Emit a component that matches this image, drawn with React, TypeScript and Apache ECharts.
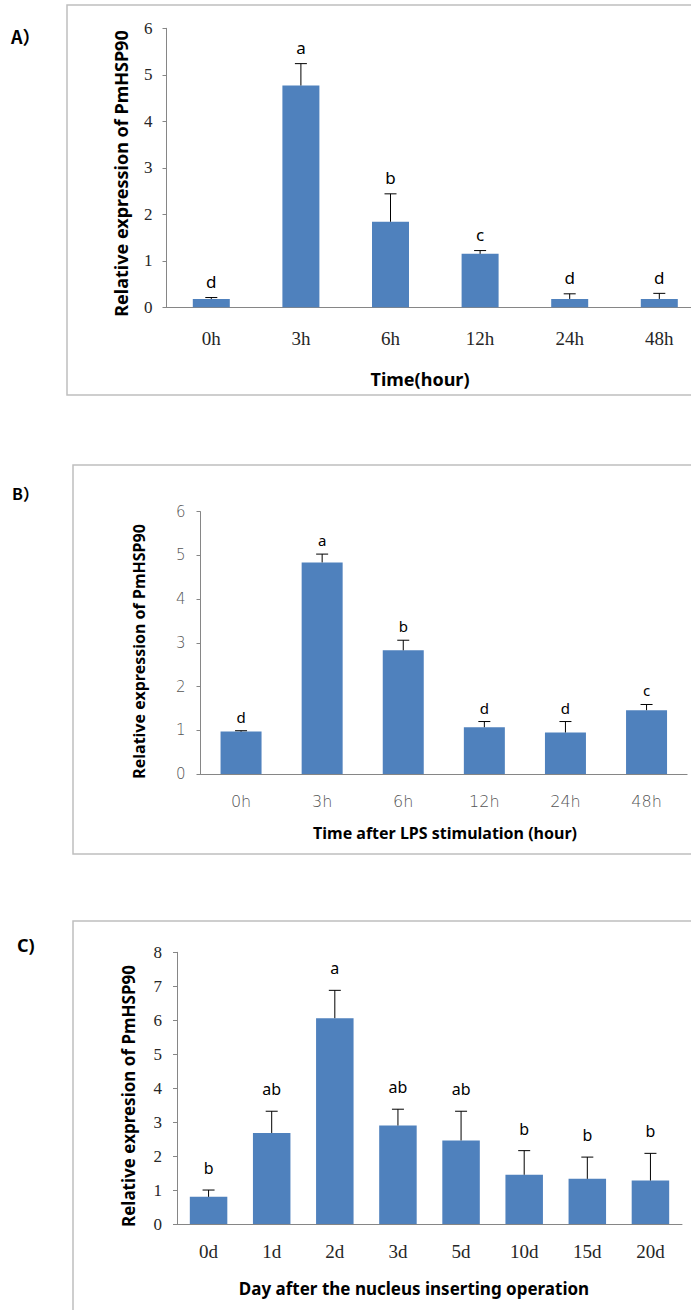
import React, { useEffect, useRef } from "react";
import * as echarts from "echarts";

const catsA = ["0h", "3h", "6h", "12h", "24h", "48h"];
const valsA = [0.18, 4.77, 1.84, 1.15, 0.18, 0.18];
const errA = [0.03, 0.47, 0.6, 0.07, 0.11, 0.12];
const sigA = ["d", "a", "b", "c", "d", "d"];

const catsB = ["0h", "3h", "6h", "12h", "24h", "48h"];
const valsB = [0.97, 4.84, 2.83, 1.07, 0.95, 1.46];
const errB = [0.02, 0.19, 0.23, 0.13, 0.25, 0.13];
const sigB = ["d", "a", "b", "d", "d", "c"];

const catsC = ["0d", "1d", "2d", "3d", "5d", "10d", "15d", "20d"];
const valsC = [0.8, 2.68, 6.06, 2.9, 2.46, 1.45, 1.33, 1.28];
const errC = [0.2, 0.64, 0.82, 0.48, 0.86, 0.71, 0.64, 0.8];
const sigC = ["b", "ab", "a", "ab", "ab", "b", "b", "b"];

const BAR = "#4F81BD";
const AXIS = "#868686";
const SERIF = "'Liberation Serif', 'Times New Roman', serif";
const THIN = "'DejaVu Sans', sans-serif";
const SANS = "'Noto Sans', 'Open Sans', sans-serif";
const CJK = "'Noto Sans CJK SC', 'Noto Sans', sans-serif";

function errSeries(idx: number, vals: number[], errs: number[], sig: string[], offset: number, fontSize: number) {
  return {
    type: "custom",
    xAxisIndex: idx,
    yAxisIndex: idx,
    z: 5,
    data: vals.map((v, i) => [i, v, errs[i]]),
    encode: { x: 0, y: 1 },
    renderItem: (params: any, api: any) => {
      const i = api.value(0);
      const v = api.value(1);
      const e = api.value(2);
      const p0 = api.coord([i, v]);
      const p1 = api.coord([i, v + e]);
      return {
        type: "group",
        children: [
          { type: "line", shape: { x1: p0[0], y1: p0[1], x2: p1[0], y2: p1[1] }, style: { stroke: "#000", lineWidth: 1 } },
          { type: "line", shape: { x1: p1[0] - 6, y1: p1[1], x2: p1[0] + 6, y2: p1[1] }, style: { stroke: "#000", lineWidth: 1 } },
          {
            type: "text",
            x: p1[0],
            y: p1[1] - offset,
            style: {
              text: sig[params.dataIndex],
              fill: "#000",
              font: `${fontSize}px ${SANS}`,
              textAlign: "center",
              textVerticalAlign: "middle",
            },
          },
        ],
      };
    },
  };
}

function yAx(idx: number, max: number, fs: number, margin: number, color: string, family: string, weight: any) {
  return {
    type: "value",
    gridIndex: idx,
    min: 0,
    max,
    interval: 1,
    axisLine: { show: true, lineStyle: { color: AXIS, width: 1 } },
    axisTick: { show: true, length: 4, lineStyle: { color: AXIS } },
    splitLine: { show: false },
    axisLabel: { fontFamily: family, fontWeight: weight, fontSize: fs, color, margin },
  };
}

function xAx(idx: number, cats: string[], fs: number, margin: number, color: string, family: string, weight: any) {
  return {
    type: "category",
    gridIndex: idx,
    data: cats,
    axisLine: { show: true, lineStyle: { color: AXIS, width: 1 } },
    axisTick: { show: false },
    axisLabel: { fontFamily: family, fontWeight: weight, fontSize: fs, color, margin, interval: 0 },
  };
}

export default function App() {
  const ref = useRef<HTMLDivElement>(null);
  useEffect(() => {
    if (!ref.current) return;
    const chart = echarts.init(ref.current, null, { renderer: "svg" });
    const option: any = {
      animation: false,
      backgroundColor: "#fff",
      grid: [
        { left: 166.5, top: 28.3, width: 537.6, height: 279 },
        { left: 200.5, top: 511.7, width: 486.6, height: 262.3 },
        { left: 177, top: 952.3, width: 505, height: 271.7 },
      ],
      xAxis: [
        xAx(0, catsA, 19, 22, "#262626", SERIF, "normal"),
        xAx(1, catsB, 16, 19, "#555555", THIN, 200),
        xAx(2, catsC, 19, 18, "#262626", SERIF, "normal"),
      ],
      yAxis: [
        yAx(0, 6, 17, 14, "#262626", SERIF, "normal"),
        yAx(1, 6, 15, 15, "#555555", THIN, 200),
        yAx(2, 8, 17, 15, "#262626", SERIF, "normal"),
      ],
      series: [
        { type: "bar", xAxisIndex: 0, yAxisIndex: 0, data: valsA, barWidth: 37, itemStyle: { color: BAR } },
        { type: "bar", xAxisIndex: 1, yAxisIndex: 1, data: valsB, barWidth: 41, itemStyle: { color: BAR } },
        { type: "bar", xAxisIndex: 2, yAxisIndex: 2, data: valsC, barWidth: 37.5, itemStyle: { color: BAR } },
        errSeries(0, valsA, errA, sigA, 16, 17),
        errSeries(1, valsB, errB, sigB, 14, 15),
        errSeries(2, valsC, errC, sigC, 22, 16),
      ],
      graphic: [
        { type: "rect", shape: { x: 67, y: 5, width: 700, height: 390 }, style: { fill: "none", stroke: "#bfbfbf", lineWidth: 1.5 }, silent: true },
        { type: "rect", shape: { x: 73, y: 465, width: 700, height: 389 }, style: { fill: "none", stroke: "#bfbfbf", lineWidth: 1.5 }, silent: true },
        { type: "rect", shape: { x: 73, y: 921, width: 700, height: 500 }, style: { fill: "none", stroke: "#bfbfbf", lineWidth: 1.5 }, silent: true },
        { type: "text", x: 11, y: 36, style: { text: "A）", font: `bold 18px ${CJK}`, fill: "#000", textVerticalAlign: "middle" } },
        { type: "text", x: 12, y: 493, style: { text: "B）", font: `bold 16px ${CJK}`, fill: "#000", textVerticalAlign: "middle" } },
        { type: "text", x: 17, y: 945, style: { text: "C)", font: `bold 18px ${SANS}`, fill: "#000", textVerticalAlign: "middle" } },
        { type: "text", x: 121, y: 173.5, rotation: Math.PI / 2, style: { text: "Relative expression of PmHSP90", font: `bold 18px ${SANS}`, fill: "#000", textAlign: "center", textVerticalAlign: "middle" } },
        { type: "text", x: 139, y: 651.5, rotation: Math.PI / 2, style: { text: "Relative expression of PmHSP90", font: `bold 16px ${SANS}`, fill: "#000", textAlign: "center", textVerticalAlign: "middle" } },
        { type: "text", x: 128, y: 1096, rotation: Math.PI / 2, style: { text: "Relative expresion of PmHSP90", font: `bold 17px ${SANS}`, fill: "#000", textAlign: "center", textVerticalAlign: "middle" } },
        { type: "text", x: 420, y: 379, style: { text: "Time(hour)", font: `bold 18px ${SANS}`, fill: "#000", textAlign: "center", textVerticalAlign: "middle" } },
        { type: "text", x: 445, y: 833, style: { text: "Time after LPS stimulation (hour)", font: `bold 16px ${SANS}`, fill: "#000", textAlign: "center", textVerticalAlign: "middle" } },
        { type: "text", x: 414, y: 1288, style: { text: "Day after the nucleus inserting operation", font: `bold 17px ${SANS}`, fill: "#000", textAlign: "center", textVerticalAlign: "middle" } },
      ],
    };
    chart.setOption(option);
    return () => chart.dispose();
  }, []);
  return (
    <div style={{ position: "absolute", left: 0, top: 0, width: 691, height: 1310, overflow: "hidden", background: "#fff" }}>
      <div ref={ref} style={{ width: 720, height: 1310 }} />
    </div>
  );
}
